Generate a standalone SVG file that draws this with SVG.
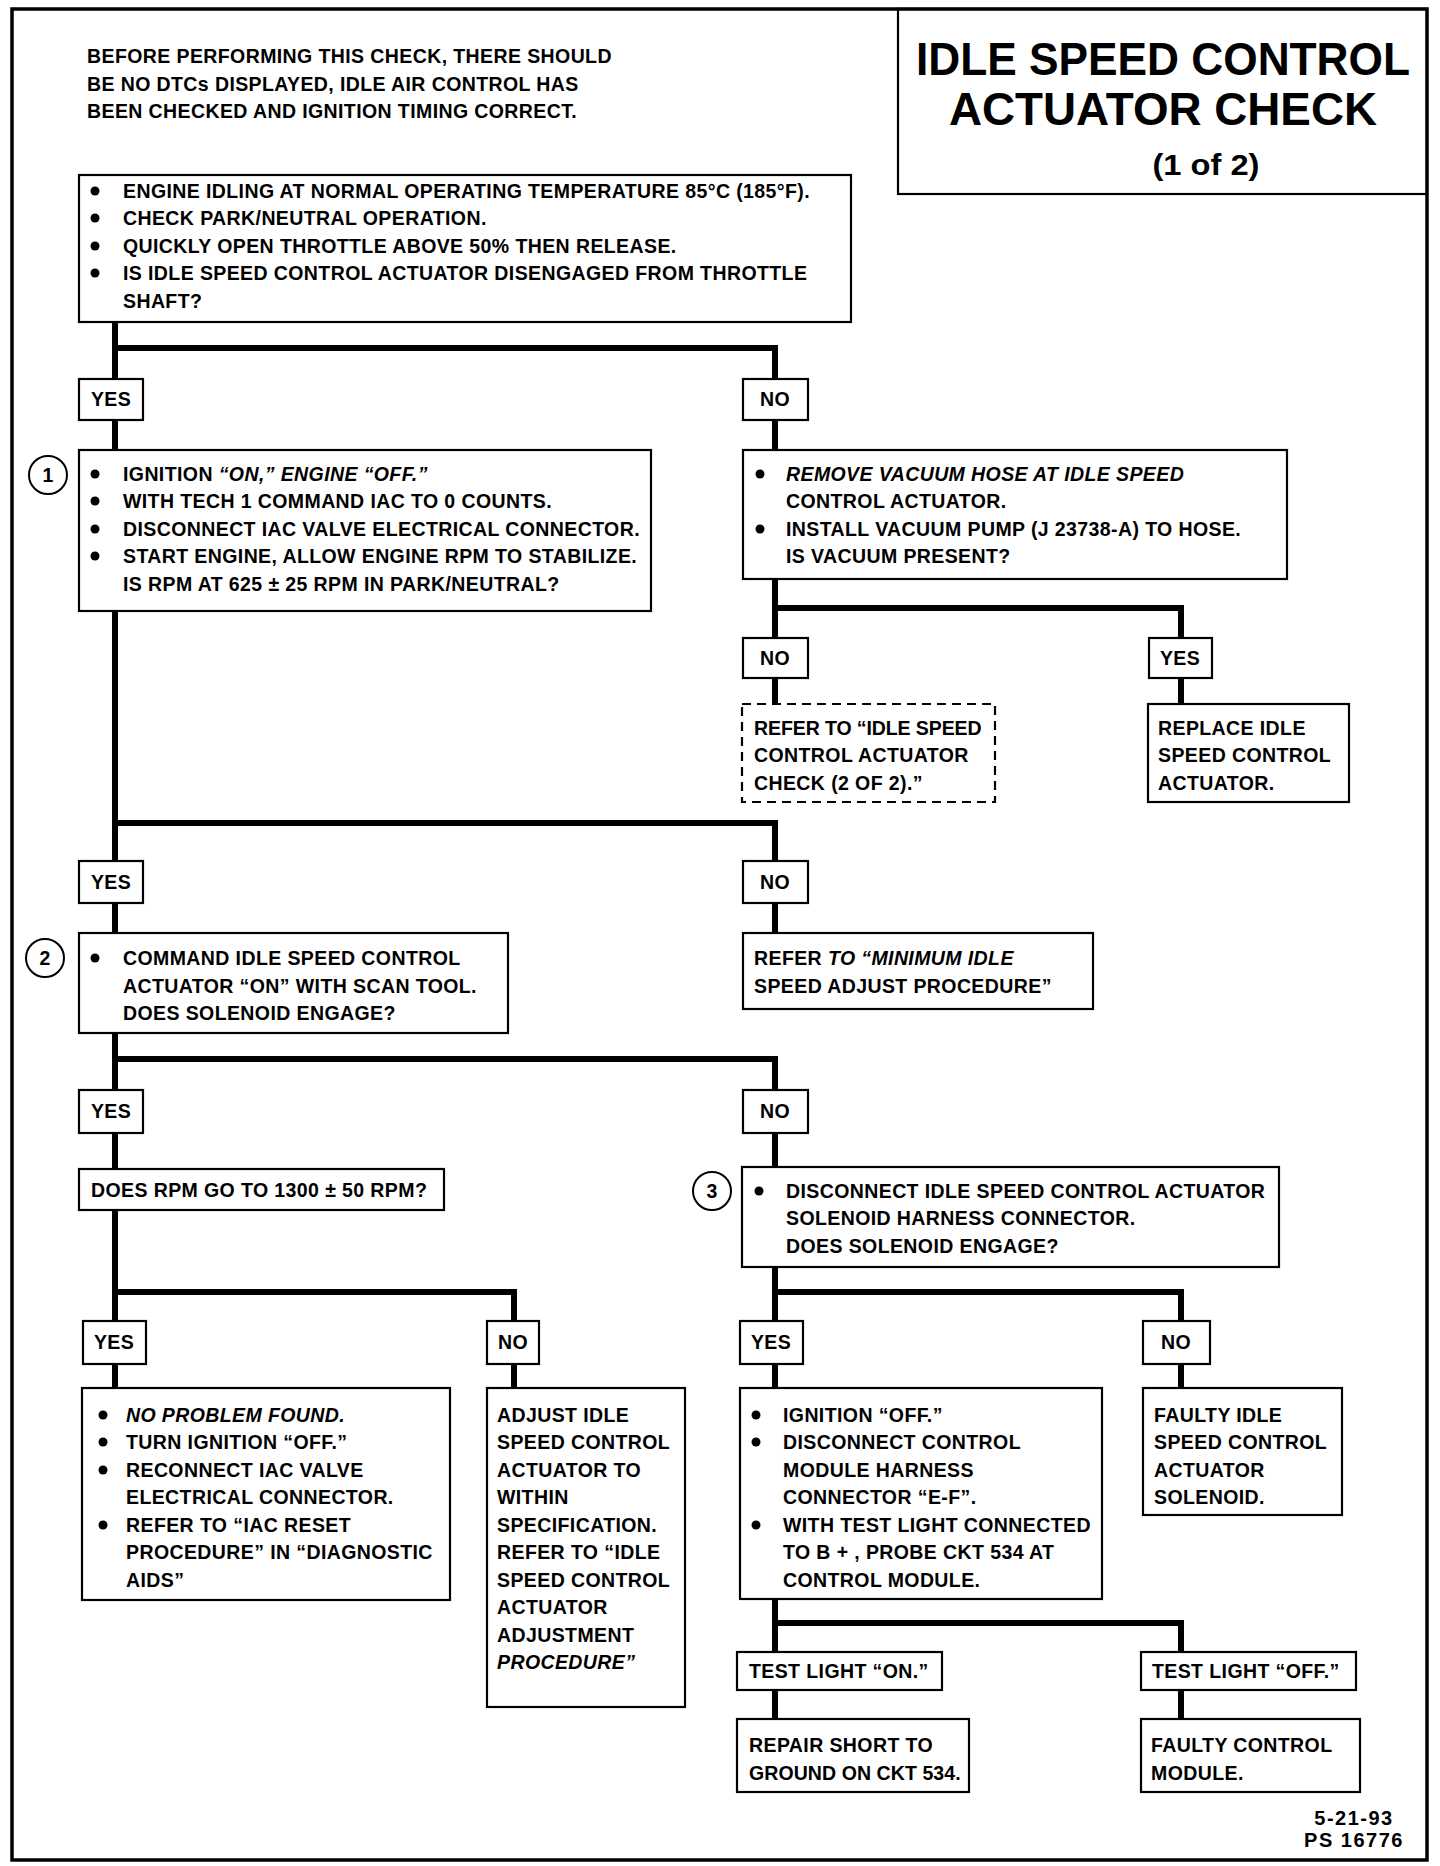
<svg xmlns="http://www.w3.org/2000/svg" width="1440" height="1866" viewBox="0 0 1440 1866">
<style>
.bx{fill:#fff;stroke:#000;stroke-width:2.2}
.ds{fill:#fff;stroke:#000;stroke-width:2.2;stroke-dasharray:9 6}
.c{fill:none;stroke:#000;stroke-width:6;stroke-linejoin:miter}
text{font-family:"Liberation Sans",Arial,sans-serif;font-weight:bold;font-size:19.5px;letter-spacing:0.4px;fill:#000}
.m{text-anchor:middle}
.i{font-style:italic}
.dot{fill:#000}
.cir{fill:#fff;stroke:#000;stroke-width:2}
.ttl{font-size:46px;letter-spacing:0}
.ft{font-size:20px;letter-spacing:1.5px}
</style>
<rect x="0" y="0" width="1440" height="1866" fill="#fff"/>
<rect x="12" y="9" width="1415" height="1851" fill="none" stroke="#000" stroke-width="3.5"/>

<g id="title">
<rect x="898" y="9" width="529" height="185" fill="none" stroke="#000" stroke-width="2.2"/>
<text x="1163" y="75" class="m ttl" textLength="494" lengthAdjust="spacingAndGlyphs">IDLE SPEED CONTROL</text>
<text x="1163" y="125" class="m ttl" textLength="428" lengthAdjust="spacingAndGlyphs">ACTUATOR CHECK</text>
<text x="1206" y="175" class="m" style="font-size:29px;letter-spacing:0" textLength="107" lengthAdjust="spacingAndGlyphs">(1 of 2)</text>
</g>

<g id="intro">
<text x="87" y="63">BEFORE PERFORMING THIS CHECK, THERE SHOULD</text>
<text x="87" y="91">BE NO DTCs DISPLAYED, IDLE AIR CONTROL HAS</text>
<text x="87" y="118">BEEN CHECKED AND IGNITION TIMING CORRECT.</text>
</g>

<g id="connectors">
<polyline class="c" points="115,322 115,1388"/>
<polyline class="c" points="115,348 775,348 775,450"/>
<polyline class="c" points="775,579 775,704"/>
<polyline class="c" points="775,608 1181,608 1181,704"/>
<polyline class="c" points="115,823 775,823 775,933"/>
<polyline class="c" points="115,1059 775,1059 775,1167"/>
<polyline class="c" points="115,1292 514,1292 514,1388"/>
<polyline class="c" points="775,1267 775,1388"/>
<polyline class="c" points="775,1292 1181,1292 1181,1388"/>
<polyline class="c" points="775,1599 775,1719"/>
<polyline class="c" points="775,1623 1181,1623 1181,1719"/>
</g>

<g id="start">
<rect class="bx" x="79" y="175" width="772" height="147"/>
<circle class="dot" cx="95" cy="191" r="4.5"/>
<circle class="dot" cx="95" cy="218" r="4.5"/>
<circle class="dot" cx="95" cy="246" r="4.5"/>
<circle class="dot" cx="95" cy="273" r="4.5"/>
<text x="123" y="198">ENGINE IDLING AT NORMAL OPERATING TEMPERATURE 85°C (185°F).</text>
<text x="123" y="225">CHECK PARK/NEUTRAL OPERATION.</text>
<text x="123" y="253">QUICKLY OPEN THROTTLE ABOVE 50% THEN RELEASE.</text>
<text x="123" y="280">IS IDLE SPEED CONTROL ACTUATOR DISENGAGED FROM THROTTLE</text>
<text x="123" y="308">SHAFT?</text>
</g>

<g id="yes1"><rect class="bx" x="79" y="379" width="64" height="41"/><text x="111" y="406" class="m">YES</text></g>
<g id="no1"><rect class="bx" x="743" y="379" width="65" height="41"/><text x="775" y="406" class="m">NO</text></g>

<g id="step1">
<circle class="cir" cx="48" cy="475" r="19"/><text x="48" y="482" class="m">1</text>
<rect class="bx" x="79" y="450" width="572" height="161"/>
<circle class="dot" cx="95" cy="474" r="4.5"/>
<circle class="dot" cx="95" cy="501" r="4.5"/>
<circle class="dot" cx="95" cy="529" r="4.5"/>
<circle class="dot" cx="95" cy="556" r="4.5"/>
<text x="123" y="481">IGNITION <tspan class="i">“ON,” ENGINE “OFF.”</tspan></text>
<text x="123" y="508">WITH TECH 1 COMMAND IAC TO 0 COUNTS.</text>
<text x="123" y="536">DISCONNECT IAC VALVE ELECTRICAL CONNECTOR.</text>
<text x="123" y="563">START ENGINE, ALLOW ENGINE RPM TO STABILIZE.</text>
<text x="123" y="591">IS RPM AT 625 ± 25 RPM IN PARK/NEUTRAL?</text>
</g>

<g id="vacuum">
<rect class="bx" x="743" y="450" width="544" height="129"/>
<circle class="dot" cx="760" cy="474" r="4.5"/>
<circle class="dot" cx="760" cy="529" r="4.5"/>
<text x="786" y="481" class="i">REMOVE VACUUM HOSE AT IDLE SPEED</text>
<text x="786" y="508">CONTROL ACTUATOR.</text>
<text x="786" y="536">INSTALL VACUUM PUMP (J 23738-A) TO HOSE.</text>
<text x="786" y="563">IS VACUUM PRESENT?</text>
</g>

<g id="no2"><rect class="bx" x="743" y="638" width="65" height="40"/><text x="775" y="665" class="m">NO</text></g>
<g id="yes2"><rect class="bx" x="1149" y="638" width="63" height="40"/><text x="1180" y="665" class="m">YES</text></g>

<g id="refer2of2">
<rect class="ds" x="742" y="704" width="253" height="98"/>
<text x="754" y="735" textLength="228" lengthAdjust="spacing">REFER TO “IDLE SPEED</text>
<text x="754" y="762">CONTROL ACTUATOR</text>
<text x="754" y="790">CHECK (2 OF 2).”</text>
</g>

<g id="replace">
<rect class="bx" x="1148" y="704" width="201" height="98"/>
<text x="1158" y="735">REPLACE IDLE</text>
<text x="1158" y="762">SPEED CONTROL</text>
<text x="1158" y="790">ACTUATOR.</text>
</g>

<g id="yes3"><rect class="bx" x="79" y="861" width="64" height="42"/><text x="111" y="889" class="m">YES</text></g>
<g id="no3"><rect class="bx" x="743" y="861" width="65" height="42"/><text x="775" y="889" class="m">NO</text></g>

<g id="step2">
<circle class="cir" cx="45" cy="958" r="19"/><text x="45" y="965" class="m">2</text>
<rect class="bx" x="79" y="933" width="429" height="100"/>
<circle class="dot" cx="95" cy="958" r="4.5"/>
<text x="123" y="965">COMMAND IDLE SPEED CONTROL</text>
<text x="123" y="993">ACTUATOR “ON” WITH SCAN TOOL.</text>
<text x="123" y="1020">DOES SOLENOID ENGAGE?</text>
</g>

<g id="minidle">
<rect class="bx" x="743" y="933" width="350" height="76"/>
<text x="754" y="965">REFER <tspan class="i">TO “MINIMUM IDLE</tspan></text>
<text x="754" y="993">SPEED ADJUST PROCEDURE”</text>
</g>

<g id="yes4"><rect class="bx" x="79" y="1090" width="64" height="43"/><text x="111" y="1118" class="m">YES</text></g>
<g id="no4"><rect class="bx" x="743" y="1090" width="65" height="43"/><text x="775" y="1118" class="m">NO</text></g>

<g id="rpm">
<rect class="bx" x="79" y="1169" width="365" height="41"/>
<text x="91" y="1197">DOES RPM GO TO 1300 ± 50 RPM?</text>
</g>

<g id="step3">
<circle class="cir" cx="712" cy="1191" r="19"/><text x="712" y="1198" class="m">3</text>
<rect class="bx" x="742" y="1167" width="537" height="100"/>
<circle class="dot" cx="759" cy="1191" r="4.5"/>
<text x="786" y="1198">DISCONNECT IDLE SPEED CONTROL ACTUATOR</text>
<text x="786" y="1225">SOLENOID HARNESS CONNECTOR.</text>
<text x="786" y="1253">DOES SOLENOID ENGAGE?</text>
</g>

<g id="yes5"><rect class="bx" x="83" y="1321" width="63" height="43"/><text x="114" y="1349" class="m">YES</text></g>
<g id="no5"><rect class="bx" x="487" y="1321" width="52" height="43"/><text x="513" y="1349" class="m">NO</text></g>
<g id="yes6"><rect class="bx" x="740" y="1321" width="63" height="43"/><text x="771" y="1349" class="m">YES</text></g>
<g id="no6"><rect class="bx" x="1143" y="1321" width="67" height="43"/><text x="1176" y="1349" class="m">NO</text></g>

<g id="noproblem">
<rect class="bx" x="82" y="1388" width="368" height="212"/>
<circle class="dot" cx="103" cy="1415" r="4.5"/>
<circle class="dot" cx="103" cy="1442" r="4.5"/>
<circle class="dot" cx="103" cy="1470" r="4.5"/>
<circle class="dot" cx="103" cy="1525" r="4.5"/>
<text x="126" y="1422" class="i">NO PROBLEM FOUND.</text>
<text x="126" y="1449">TURN IGNITION “OFF.”</text>
<text x="126" y="1477">RECONNECT IAC VALVE</text>
<text x="126" y="1504">ELECTRICAL CONNECTOR.</text>
<text x="126" y="1532">REFER TO “IAC RESET</text>
<text x="126" y="1559">PROCEDURE” IN “DIAGNOSTIC</text>
<text x="126" y="1587">AIDS”</text>
</g>

<g id="adjust">
<rect class="bx" x="487" y="1388" width="198" height="319"/>
<text x="497" y="1422">ADJUST IDLE</text>
<text x="497" y="1449">SPEED CONTROL</text>
<text x="497" y="1477">ACTUATOR TO</text>
<text x="497" y="1504">WITHIN</text>
<text x="497" y="1532">SPECIFICATION.</text>
<text x="497" y="1559">REFER TO “IDLE</text>
<text x="497" y="1587">SPEED CONTROL</text>
<text x="497" y="1614">ACTUATOR</text>
<text x="497" y="1642">ADJUSTMENT</text>
<text x="497" y="1669" class="i">PROCEDURE”</text>
</g>

<g id="ignitionoff">
<rect class="bx" x="740" y="1388" width="362" height="211"/>
<circle class="dot" cx="756" cy="1415" r="4.5"/>
<circle class="dot" cx="756" cy="1442" r="4.5"/>
<circle class="dot" cx="756" cy="1525" r="4.5"/>
<text x="783" y="1422">IGNITION “OFF.”</text>
<text x="783" y="1449">DISCONNECT CONTROL</text>
<text x="783" y="1477">MODULE HARNESS</text>
<text x="783" y="1504">CONNECTOR “E-F”.</text>
<text x="783" y="1532">WITH TEST LIGHT CONNECTED</text>
<text x="783" y="1559">TO B + , PROBE CKT 534 AT</text>
<text x="783" y="1587">CONTROL MODULE.</text>
</g>

<g id="faultyidle">
<rect class="bx" x="1143" y="1388" width="199" height="127"/>
<text x="1154" y="1422">FAULTY IDLE</text>
<text x="1154" y="1449">SPEED CONTROL</text>
<text x="1154" y="1477">ACTUATOR</text>
<text x="1154" y="1504">SOLENOID.</text>
</g>

<g id="lighton"><rect class="bx" x="737" y="1652" width="205" height="38"/><text x="749" y="1678">TEST LIGHT “ON.”</text></g>
<g id="lightoff"><rect class="bx" x="1141" y="1652" width="215" height="38"/><text x="1152" y="1678">TEST LIGHT “OFF.”</text></g>

<g id="repair">
<rect class="bx" x="737" y="1719" width="232" height="73"/>
<text x="749" y="1752">REPAIR SHORT TO</text>
<text x="749" y="1780" textLength="212" lengthAdjust="spacing">GROUND ON CKT 534.</text>
</g>

<g id="faultymodule">
<rect class="bx" x="1141" y="1719" width="219" height="73"/>
<text x="1151" y="1752">FAULTY CONTROL</text>
<text x="1151" y="1780">MODULE.</text>
</g>

<g id="footer">
<text x="1354" y="1825" class="m ft">5-21-93</text>
<text x="1354" y="1847" class="m ft">PS 16776</text>
</g>
</svg>
